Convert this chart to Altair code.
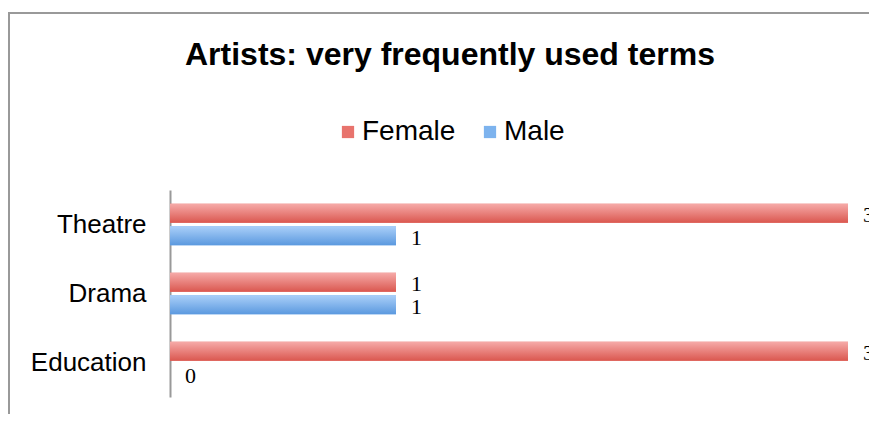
import altair as alt
import pandas as pd

categories = ["Theatre", "Drama", "Education"]
female = [3, 1, 3]
male = [1, 1, 0]
genders = ["Female", "Male"]

rows = []
for c, f, m in zip(categories, female, male):
    rows.append({"term": c, "gender": "Female", "value": f})
    rows.append({"term": c, "gender": "Male", "value": m})
df = pd.DataFrame(rows)

W, H = 678, 207
PL, PT = 162, 182
SVG_W, SVG_H = 861, 406

y_enc = alt.Y("term:N", sort=categories, title=None,
              scale=alt.Scale(paddingInner=0.4, paddingOuter=0.2),
              axis=alt.Axis(labelFont="Liberation Sans", labelFontSize=26, labelColor="#000",
                            labelPadding=24, ticks=False, domainColor="#999", domainWidth=2,
                            grid=False))
yoff = alt.YOffset("gender:N", sort=genders, scale=alt.Scale(paddingInner=0.15, paddingOuter=0))
x_enc = alt.X("value:Q", scale=alt.Scale(domain=[0, 3], nice=False, zero=True), axis=None)

base = alt.Chart(df)

bars = base.mark_bar(cornerRadius=0).encode(
    y=y_enc, yOffset=yoff, x=x_enc,
    color=alt.Color("gender:N", sort=genders,
                    scale=alt.Scale(domain=genders, range=["#e8736d", "#7db3ee"]),
                    legend=alt.Legend(title=None, orient="none", direction="horizontal",
                                      legendX=164, legendY=-72,
                                      symbolType="square", symbolSize=150,
                                      symbolStrokeWidth=0,
                                      labelFont="Liberation Sans", labelFontSize=28,
                                      labelColor="#000", labelOffset=0,
                                      columnPadding=20, symbolOpacity=1)),
)

def grad(top, bottom):
    return alt.Gradient(gradient="linear", x1=0, x2=0, y1=0, y2=1,
                        stops=[alt.GradientStop(offset=0, color=top),
                               alt.GradientStop(offset=1, color=bottom)])

f_bars = base.transform_filter(alt.datum.gender == "Female").mark_bar(
    fill=grad("#f6aaa8", "#da574f")).encode(y=y_enc, yOffset=yoff, x=x_enc)
m_bars = base.transform_filter(alt.datum.gender == "Male").mark_bar(
    fill=grad("#abd0f9", "#5b99df")).encode(y=y_enc, yOffset=yoff, x=x_enc)

labels = base.mark_text(align="left", baseline="middle", dx=15, dy=2,
                        font="Liberation Serif", fontSize=22, color="#000").encode(
    y=y_enc, yOffset=yoff, x=x_enc, text="value:Q")

one = pd.DataFrame({"a": [0]})
top_border = alt.Chart(one).mark_rule(color="#999", strokeWidth=2).encode(
    x=alt.value(-PL), x2=alt.value(W + 40), y=alt.value(-177))
left_border = alt.Chart(one).mark_rule(color="#999", strokeWidth=2).encode(
    x=alt.value(-PL + 1), y=alt.value(-178), y2=alt.value(H + 40))

chart = alt.layer(top_border, left_border, bars, f_bars, m_bars, labels).properties(
    width=W, height=H,
    title=alt.TitleParams("Artists: very frequently used terms", anchor="start",
                          frame="group", dx=15, offset=-86,
                          font="Liberation Sans", fontSize=32, fontWeight="bold",
                          color="#000", baseline="alphabetic"),
    padding={"left": PL, "top": PT, "right": SVG_W - PL - W, "bottom": SVG_H - PT - H},
    autosize=alt.AutoSizeParams(type="none"),
).configure_view(stroke=None)

chart.save("out.html", embed_options={"renderer": "svg", "actions": False})
